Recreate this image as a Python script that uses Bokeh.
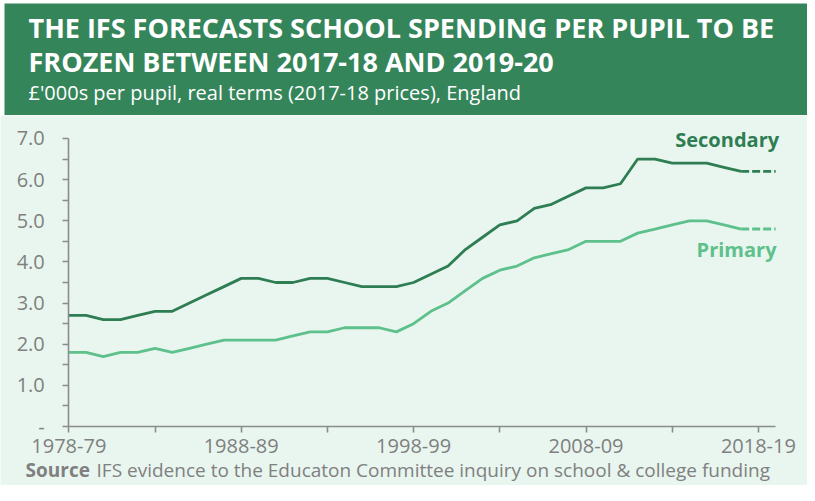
from bokeh.plotting import figure
from bokeh.models import Range1d, FixedTicker, Label
from bokeh.layouts import column
from bokeh.embed import file_html
from bokeh.resources import INLINE

# ---------------- data ----------------
years = [f"{y}-{(y + 1) % 100:02d}" for y in range(1978, 2020)]  # 1978-79 ... 2019-20

secondary = [2.7, 2.7, 2.6, 2.6, 2.7, 2.8, 2.8, 3.0, 3.2, 3.4,
             3.6, 3.6, 3.5, 3.5, 3.6, 3.6, 3.5, 3.4, 3.4, 3.4,
             3.5, 3.7, 3.9, 4.3, 4.6, 4.9, 5.0, 5.3, 5.4, 5.6,
             5.8, 5.8, 5.9, 6.5, 6.5, 6.4, 6.4, 6.4, 6.3, 6.2,
             6.2, 6.2]
primary = [1.8, 1.8, 1.7, 1.8, 1.8, 1.9, 1.8, 1.9, 2.0, 2.1,
           2.1, 2.1, 2.1, 2.2, 2.3, 2.3, 2.4, 2.4, 2.4, 2.3,
           2.5, 2.8, 3.0, 3.3, 3.6, 3.8, 3.9, 4.1, 4.2, 4.3,
           4.5, 4.5, 4.5, 4.7, 4.8, 4.9, 5.0, 5.0, 4.9, 4.8,
           4.8, 4.8]
last_actual = "2017-18"  # forecast (dashed) after this year

x_tick_labels = ["1978-79", "1988-89", "1998-99", "2008-09", "2018-19"]
x_minor_labels = ["1983-84", "1993-94", "2003-04", "2013-14"]
y_ticks = [0, 1, 2, 3, 4, 5, 6, 7]
y_tick_labels = ["-", "1.0", "2.0", "3.0", "4.0", "5.0", "6.0", "7.0"]
y_minor = [0.5, 1.5, 2.5, 3.5, 4.5, 5.5, 6.5]

title_lines = ["THE IFS FORECASTS SCHOOL SPENDING PER PUPIL TO BE",
               "FROZEN BETWEEN 2017-18 AND 2019-20"]
subtitle = "\u00a3'000s per pupil, real terms (2017-18 prices), England"
source_bold = "Source"
source_text = "IFS evidence to the Educaton Committee inquiry on school & college funding"

# ---------------- styles ----------------
HDR = "#35855a"
BG = "#e8f6ef"
SEC = "#2e7d53"
PRI = "#5ec08b"
GREY = "#808080"
AX = "#8c8c8c"
FONT = "Open Sans"
W = 807

# ---------------- header ----------------
hdr = figure(width=W, height=115, x_range=Range1d(0, W - 4), y_range=Range1d(112, 0),
             title=None, toolbar_location=None, output_backend="svg",
             min_border_left=4, min_border_top=3, min_border_right=0, min_border_bottom=0,
             x_axis_location=None, y_axis_location=None)
hdr.grid.visible = False
hdr.outline_line_color = None
hdr.background_fill_color = HDR
hdr.border_fill_color = "white"
for txt, yb in zip(title_lines, [23.5, 57.5]):
    hdr.add_layout(Label(x=24, y=yb, text=txt, text_font=FONT, text_font_size="27px",
                         text_font_style="bold", text_color="white",
                         text_baseline="alphabetic", text_align="left"))
hdr.add_layout(Label(x=24, y=89, text=subtitle, text_font=FONT, text_font_size="20px",
                     text_color="white", text_baseline="alphabetic", text_align="left"))

# ---------------- main chart (frame fills the canvas, axes fixed at zero) ----------------
xs = list(range(len(years)))
cut = years.index(last_actual)

p = figure(width=W, height=370, x_range=Range1d(-3.962, 42.848), y_range=Range1d(-1.434, 7.559),
           title=None, toolbar_location=None, output_backend="svg",
           min_border_left=0, min_border_right=0, min_border_top=0, min_border_bottom=0)
p.grid.visible = False
p.outline_line_color = None
p.background_fill_color = BG
p.border_fill_color = BG

for vals, col in [(secondary, SEC), (primary, PRI)]:
    p.line(xs[:cut + 1], vals[:cut + 1], line_color=col, line_width=2.8, line_join="round")
    p.line(xs[cut:], vals[cut:], line_color=col, line_width=2.8, line_dash="8 3")

for ax in [p.xaxis[0], p.yaxis[0]]:
    ax.fixed_location = 0
    ax.axis_line_color = AX
    ax.axis_line_width = 1.6
    ax.major_tick_line_color = AX
    ax.minor_tick_line_color = AX
    ax.major_tick_line_width = 1.6
    ax.minor_tick_line_width = 1.6
    ax.major_tick_in = 0
    ax.major_tick_out = 6
    ax.minor_tick_in = 0
    ax.minor_tick_out = 6
    ax.major_label_text_font = FONT
    ax.major_label_text_font_size = "20px"
    ax.major_label_text_color = GREY

xt = [years.index(s) for s in x_tick_labels]
xm = [years.index(s) for s in x_minor_labels]
p.xaxis.ticker = FixedTicker(ticks=xt, minor_ticks=xm)
p.xaxis.major_label_overrides = {t: years[t] for t in xt}
p.xaxis.major_label_standoff = 6
p.xaxis.bounds = (0, len(years) - 1)

p.yaxis.ticker = FixedTicker(ticks=y_ticks, minor_ticks=y_minor)
p.yaxis.major_label_overrides = {t: l for t, l in zip(y_ticks, y_tick_labels)}
p.yaxis.major_label_standoff = 18
p.yaxis.bounds = (y_ticks[0], y_ticks[-1])

p.add_layout(Label(x=41.2, y=6.97, text="Secondary", text_font=FONT, text_font_size="20px",
                   text_font_style="bold", text_color=SEC, text_align="right",
                   text_baseline="alphabetic"))
p.add_layout(Label(x=41.05, y=4.3, text="Primary", text_font=FONT, text_font_size="20px",
                   text_font_style="bold", text_color=PRI, text_align="right",
                   text_baseline="alphabetic"))

# source line, below the x-axis labels
p.add_layout(Label(x=-2.51, y=-1.06, text=source_bold, text_font=FONT, text_font_size="19px",
                   text_font_style="bold", text_color=GREY, text_align="left",
                   text_baseline="alphabetic"))
p.add_layout(Label(x=1.61, y=-1.06, text=source_text, text_font=FONT, text_font_size="19px",
                   text_color=GREY, text_align="left", text_baseline="alphabetic"))

figs = [hdr, p]
for f in figs:
    if "frame_align" in f.properties():
        f.frame_align = False

layout = column(*figs, spacing=0)

open("out.html", "w").write(file_html(layout, INLINE))
